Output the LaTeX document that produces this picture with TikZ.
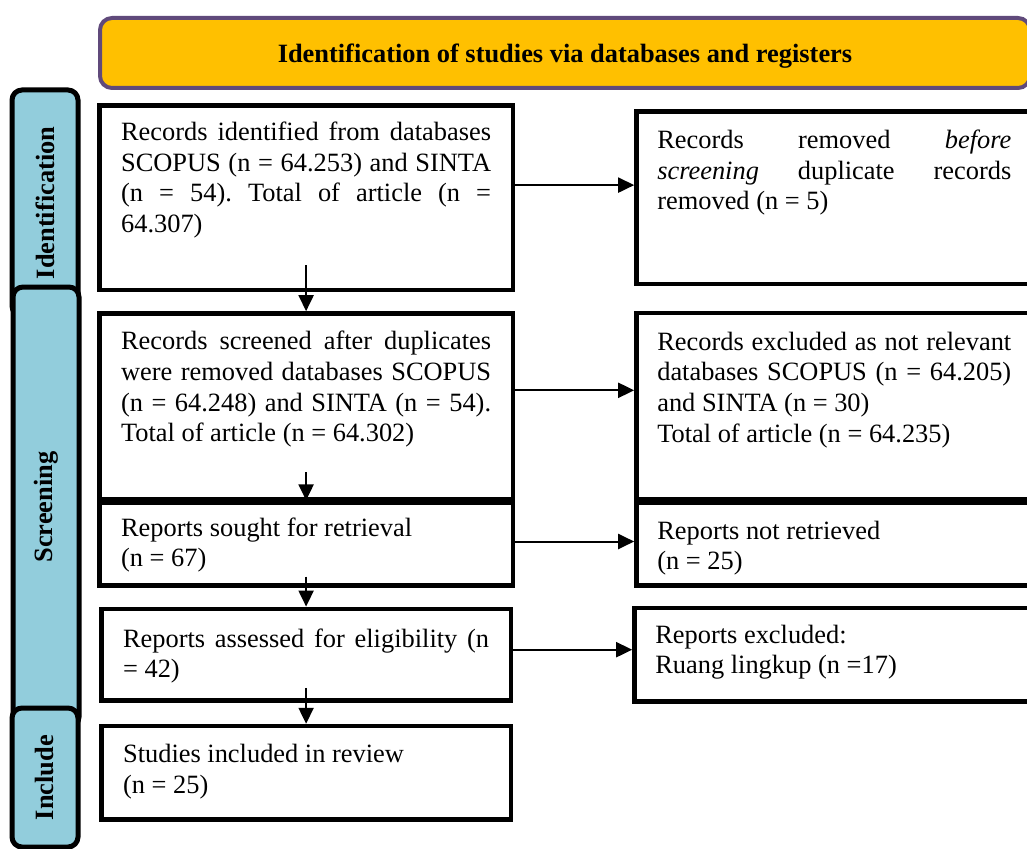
\documentclass[tikz,border=0pt]{standalone}
\usepackage{fontspec}
\setmainfont{Liberation Serif}
\frenchspacing
\usetikzlibrary{positioning, calc, arrows.meta}

\definecolor{bannerfill}{RGB}{255,192,0}
\definecolor{bannerline}{RGB}{96,74,123}
\definecolor{phasefill}{RGB}{146,205,220}

\begin{document}
\begin{tikzpicture}[> = {Triangle[length=8pt, width=7.5pt]}, % arrow head style
                x = 0.5pt, y = 0.5pt, % one unit is one pixel of the layout
                node distance = 9.5pt, % gap between boxes
                font = \fontsize{13.2pt}{15.3pt}\selectfont
            ]

            \tikzstyle{stage}=[draw = black, line width = 2.3pt, align = justify,
            text width = 185pt, inner xsep = 10.9pt, inner ysep = 0pt]
            \tikzstyle{side}=[stage, text width = 177pt, inner xsep = 10.4pt]
            \tikzstyle{phase}=[draw = black, line width = 2.5pt, fill = phasefill,
            rounded corners = 5pt, rotate = 90, minimum height = 33pt,
            font = \fontsize{13.2pt}{15.3pt}\selectfont\bfseries]
            \tikzstyle{banner}=[draw = bannerline, fill = bannerfill, line width = 2pt,
            rounded corners = 6pt, minimum width = 465pt, minimum height = 35pt,
            text depth = 0pt, font = \fontsize{13.2pt}{15.3pt}\selectfont\bfseries]
            \tikzstyle{link}=[->, line width = 1pt]

            \useasboundingbox (0,0) rectangle (1027,848);

            \node[banner] (head) at (565,795) {Identification of studies via databases and registers};

            % phase bars on the left
            \node[phase, minimum width = 113pt] (idf) at (45,645) {Identification};
            \node[phase, minimum width = 220pt] (scr) at (46,341) {Screening};
            \node[phase, minimum width = 69.5pt] (inc) at (45,70.5) {Include};

            % main column
            \node[stage, anchor = north west, text height = 17.65pt, text depth = 74.65pt]
            (rec) at (97,745) {Records identified from databases\linebreak SCOPUS (n = 64.253) and SINTA\linebreak (n = 54). Total of article (n =\linebreak 64.307)};
            \node[stage, below = of rec, text height = 18.15pt, text depth = 74.65pt]
            (scrn) {Records screened after duplicates\linebreak were removed databases SCOPUS\linebreak (n = 64.248) and SINTA (n = 54).\linebreak Total of article (n = 64.302)};
            \node[stage, below = -0.5pt of scrn, text height = 16.65pt, text depth = 24.65pt]
            (sought) {Reports sought for retrieval\\ (n = 67)};
            \node[stage, below = of sought, text width = 183pt, text height = 19.15pt,
            text depth = 26.65pt] (assess) {Reports assessed for eligibility (n\linebreak = 42)};
            \node[stage, below = 10.5pt of assess, text width = 183pt, text height = 18.15pt,
            text depth = 28.65pt] (incl) {Studies included in review\\ (n = 25)};

            % excluded column
            \node[side, right = 59.5pt of rec, text height = 18.65pt, text depth = 67.65pt]
            (dup) {Records removed \textit{before}\linebreak \textit{screening} duplicate records\linebreak removed (n = 5)};
            \node[side, right = 59.5pt of scrn, text height = 18.65pt, text depth = 74.65pt]
            (irrel) {Records excluded as not relevant\linebreak databases SCOPUS (n = 64.205)\linebreak and SINTA (n = 30)\\ Total of article (n = 64.235)};
            \node[side, right = 59.5pt of sought, text height = 18.15pt, text depth = 23.15pt]
            (notret) {Reports not retrieved\\ (n = 25)};
            \node[side, right = 59.5pt of assess, text height = 17.65pt, text depth = 29.15pt]
            (excl) {Reports excluded:\\ Ruang lingkup (n =17)};

            % downward links
            \draw[link] ($(rec.south)+(0,13.5pt)$) -- (scrn.north);
            \draw[link] ($(scrn.south)+(0,14.5pt)$) -- (sought.north);
            \draw[link] ($(sought.south)+(0,5.5pt)$) -- (assess.north);
            \draw[link] ($(assess.south)+(0,7.5pt)$) -- (incl.north);

            % sideways links
            \coordinate (a1) at ($(rec.east)+(0,6.25pt)$);
            \coordinate (a2) at ($(scrn.east)+(0,8pt)$);
            \coordinate (a3) at ($(sought.east)+(0,1.25pt)$);
            \coordinate (a4) at ($(assess.east)+(0,2.5pt)$);
            \draw[link] (a1) -- (a1 -| dup.west);
            \draw[link] (a2) -- (a2 -| irrel.west);
            \draw[link] (a3) -- (a3 -| notret.west);
            \draw[link] (a4) -- (a4 -| excl.west);
\end{tikzpicture}
\end{document}
